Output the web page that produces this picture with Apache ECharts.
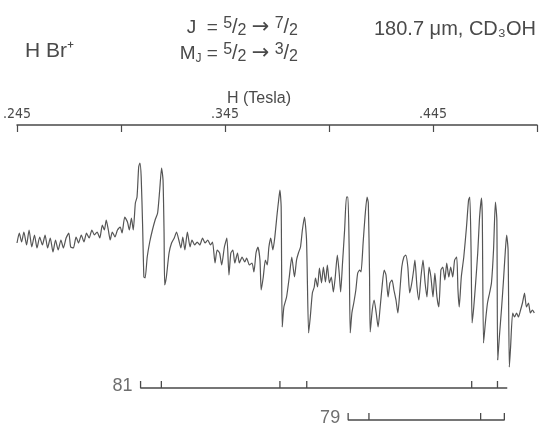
<!DOCTYPE html>
<html><head><meta charset="utf-8">
<script src="https://cdn.jsdelivr.net/npm/echarts@6/dist/echarts.min.js"></script>
<style>html,body{margin:0;padding:0;background:#fff}#c{width:540px;height:430px}</style>
</head><body><div id="c"></div>
<script>
// Magnetic field (axis units, labelled ".245" etc.)
const field = [245.0,246.1,247.2,248.3,249.6,250.8,252.1,253.4,254.6,255.9,257.2,258.5,259.7,261.0,262.3,263.5,264.8,266.1,267.3,268.6,269.9,270.8,272.1,273.4,274.6,275.9,277.2,278.4,279.7,281.0,282.2,283.5,284.8,286.0,287.0,287.9,288.9,289.8,290.8,292.1,293.3,294.6,295.5,296.8,298.1,299.0,300.0,300.9,301.9,302.7,303.5,304.1,304.7,305.4,306.0,306.6,307.6,308.8,310.1,311.4,312.6,313.6,314.5,315.2,315.7,316.0,316.8,318.1,319.3,320.6,321.7,322.8,323.8,324.7,325.7,326.9,328.2,329.1,330.4,331.6,332.9,334.2,335.4,336.7,338.0,339.0,340.2,341.2,342.4,343.4,344.7,345.9,346.9,347.8,348.8,349.7,351.0,351.9,353.2,354.5,355.4,356.7,358.0,358.9,359.9,360.8,361.8,362.4,363.4,364.4,365.3,366.1,367.0,368.0,368.9,370.1,370.8,371.4,372.0,372.5,373.3,374.6,375.9,377.1,378.4,379.4,380.3,381.3,382.2,383.2,384.2,385.2,386.0,387.0,387.9,388.5,389.5,390.4,391.4,392.3,393.3,394.2,395.2,396.1,397.1,398.0,399.0,399.9,400.6,401.5,402.5,403.4,404.1,404.7,405.2,406.0,406.9,407.9,408.8,409.8,410.4,411.4,412.3,413.3,413.9,414.5,414.8,415.8,416.7,417.7,418.6,419.6,420.5,421.5,422.4,423.4,424.3,425.3,426.2,427.2,428.1,429.1,430.0,431.0,431.9,432.9,433.8,434.8,435.7,436.3,437.3,438.2,439.2,440.2,441.2,442.1,443.1,444.0,445.0,445.9,446.9,447.8,448.8,449.7,450.7,451.6,452.6,453.5,454.5,455.4,456.4,457.0,457.6,458.6,459.8,461.1,462.1,462.7,463.3,463.8,464.6,465.5,466.5,467.4,468.3,468.7,469.3,470.3,471.2,472.2,473.1,474.1,475.0,475.7,476.1,476.9,477.9,478.8,479.8,480.4,481.1,481.7,482.3,483.3,484.2,485.2,486.1,487.1,488.0,489.0,489.9,490.9,491.8,492.8,493.7];
// LMR signal (arbitrary units)
const signal = [7,17,8,18,5,20,3,15,2,13,5,15,2,12,-2,10,0,10,2,12,17,3,2,13,7,15,8,17,12,20,15,18,12,25,20,30,20,10,18,13,20,23,17,33,28,20,32,20,47,53,83,87,73,23,-27,-28,-7,8,20,30,37,60,82,70,17,-35,-27,-3,7,12,18,10,2,13,0,18,3,10,5,8,5,12,7,10,5,8,-13,0,-3,-15,3,12,-25,-3,0,-13,-3,-13,-7,-12,-8,-15,-13,-22,-3,3,-10,-40,-27,-10,-15,3,12,0,12,37,50,60,43,-77,-57,-47,-27,-7,-27,-10,-3,3,20,33,10,-83,-67,-43,-37,-28,-37,-18,-33,-17,-32,-15,-33,-27,-42,-27,-5,-23,-42,-13,20,53,53,0,-83,-63,-53,-40,-23,-20,-22,7,33,53,47,-27,-82,-60,-50,-63,-77,-57,-37,-20,-25,-47,-33,-30,-40,-50,-63,-40,-17,-7,-5,-17,-43,-33,-20,-10,-37,-50,-27,-10,-33,-47,-17,-27,-47,-23,-47,-57,-20,-17,-30,-13,-27,-17,-27,-10,-7,-40,-57,-27,-7,23,50,53,0,-73,-57,-33,-3,33,52,33,-93,-70,-53,-43,-33,0,48,30,-110,-87,-60,-33,0,15,0,-117,-97,-63,-67,-63,-67,-60,-53,-43,-57,-53,-63,-60,-63];
// Axis tick labels
const tickValues = [245, 345, 445];
const tickLabels = ['.245', '.345', '.445'];
// Isotope line-position brackets (field units)
const iso81Name = '81', iso81Start = 304.4, iso81End = 480.7, iso81Ticks = [314.4, 371.4, 384.3, 463.6, 476.0];
const iso79Name = '79', iso79Start = 404.2, iso79End = 479.3, iso79Ticks = [414.2, 467.9];

const lvl81 = -138, lvl79 = -170, th = 7;
function bracket(start, end, ticks, lvl, rightTick) {
  const d = [[start, lvl + th], [start, lvl], [end, lvl]];
  if (rightTick) d.push([end, lvl + th]);
  ticks.forEach(t => { d.push([null, null]); d.push([t, lvl]); d.push([t, lvl + th]); });
  return d;
}
const ink = '#4a4a4a';
const fracRich = {
  n: {fontSize: 16, fontFamily: 'Liberation Sans', color: ink, padding: [0, 0, 7, 0]},
  d: {fontSize: 16, fontFamily: 'Liberation Sans', color: ink, padding: [7, 0, 0, 0]},
  sl: {fontSize: 20, fontFamily: 'Liberation Sans', color: ink},
  a: {fontSize: 21, fontFamily: 'DejaVu Sans', color: ink},
  s: {fontSize: 12, fontFamily: 'Liberation Sans', color: ink, padding: [10, 0, 0, 0]}
};
const chart = echarts.init(document.getElementById('c'));
chart.setOption({
  backgroundColor: '#fff',
  animation: false,
  title: [
    {text: 'H Br⁺', left: 20, top: 36, textStyle: {fontFamily: 'Liberation Sans', fontWeight: 'normal', fontSize: 21, color: ink}},
    {text: 'J  = {n|5}{sl|/}{d|2} {a|→} {n|7}{sl|/}{d|2}', right: 237, top: 11,
     textStyle: {fontFamily: 'Liberation Sans', fontWeight: 'normal', fontSize: 19, color: ink, rich: fracRich}},
    {text: 'M{s|J} = {n|5}{sl|/}{d|2} {a|→} {n|3}{sl|/}{d|2}', right: 237, top: 37,
     textStyle: {fontFamily: 'Liberation Sans', fontWeight: 'normal', fontSize: 19, color: ink, rich: fracRich}},
    {text: '180.7 μm, CD₃OH', left: 369, top: 14, textStyle: {fontFamily: 'Liberation Sans', fontWeight: 'normal', fontSize: 20, color: ink}},
    {text: 'H (Tesla)', left: 222, top: 86, textStyle: {fontFamily: 'Liberation Sans', fontWeight: 'normal', fontSize: 16, color: ink}}
  ],
  grid: {left: 17, right: -3, top: 125, bottom: 0, containLabel: false},
  xAxis: {
    type: 'value', position: 'top', min: 245, max: 495, interval: 50,
    splitLine: {show: false},
    axisLine: {onZero: false, lineStyle: {color: ink, width: 1.5}},
    axisTick: {inside: true, length: 7, lineStyle: {color: ink, width: 1.2}},
    axisLabel: {
      color: ink, fontSize: 14, fontFamily: 'Liberation Sans Narrow, DejaVu Sans Condensed, sans-serif', margin: 4,
      formatter: v => { const i = tickValues.indexOf(v); return i >= 0 ? tickLabels[i] : ''; }
    }
  },
  yAxis: {type: 'value', min: -180, max: 125, show: false},
  series: [
    {type: 'line', data: field.map((f, i) => [f, signal[i]]), showSymbol: false, smooth: 0.2,
     lineStyle: {color: '#555', width: 1.2}},
    {type: 'line', data: bracket(iso81Start, iso81End, iso81Ticks, lvl81, false), showSymbol: false, connectNulls: false,
     lineStyle: {color: ink, width: 1.3}},
    {type: 'line', data: bracket(iso79Start, iso79End, iso79Ticks, lvl79, true), showSymbol: false, connectNulls: false,
     lineStyle: {color: ink, width: 1.3}},
    {type: 'scatter', symbolSize: 0, data: [[iso81Start, lvl81 + 2, iso81Name], [iso79Start, lvl79 + 2, iso79Name]],
     label: {show: true, position: 'left', distance: 8, formatter: p => p.data[2], fontSize: 18, fontFamily: 'Liberation Sans', color: ink}}
  ]
});
</script></body></html>
